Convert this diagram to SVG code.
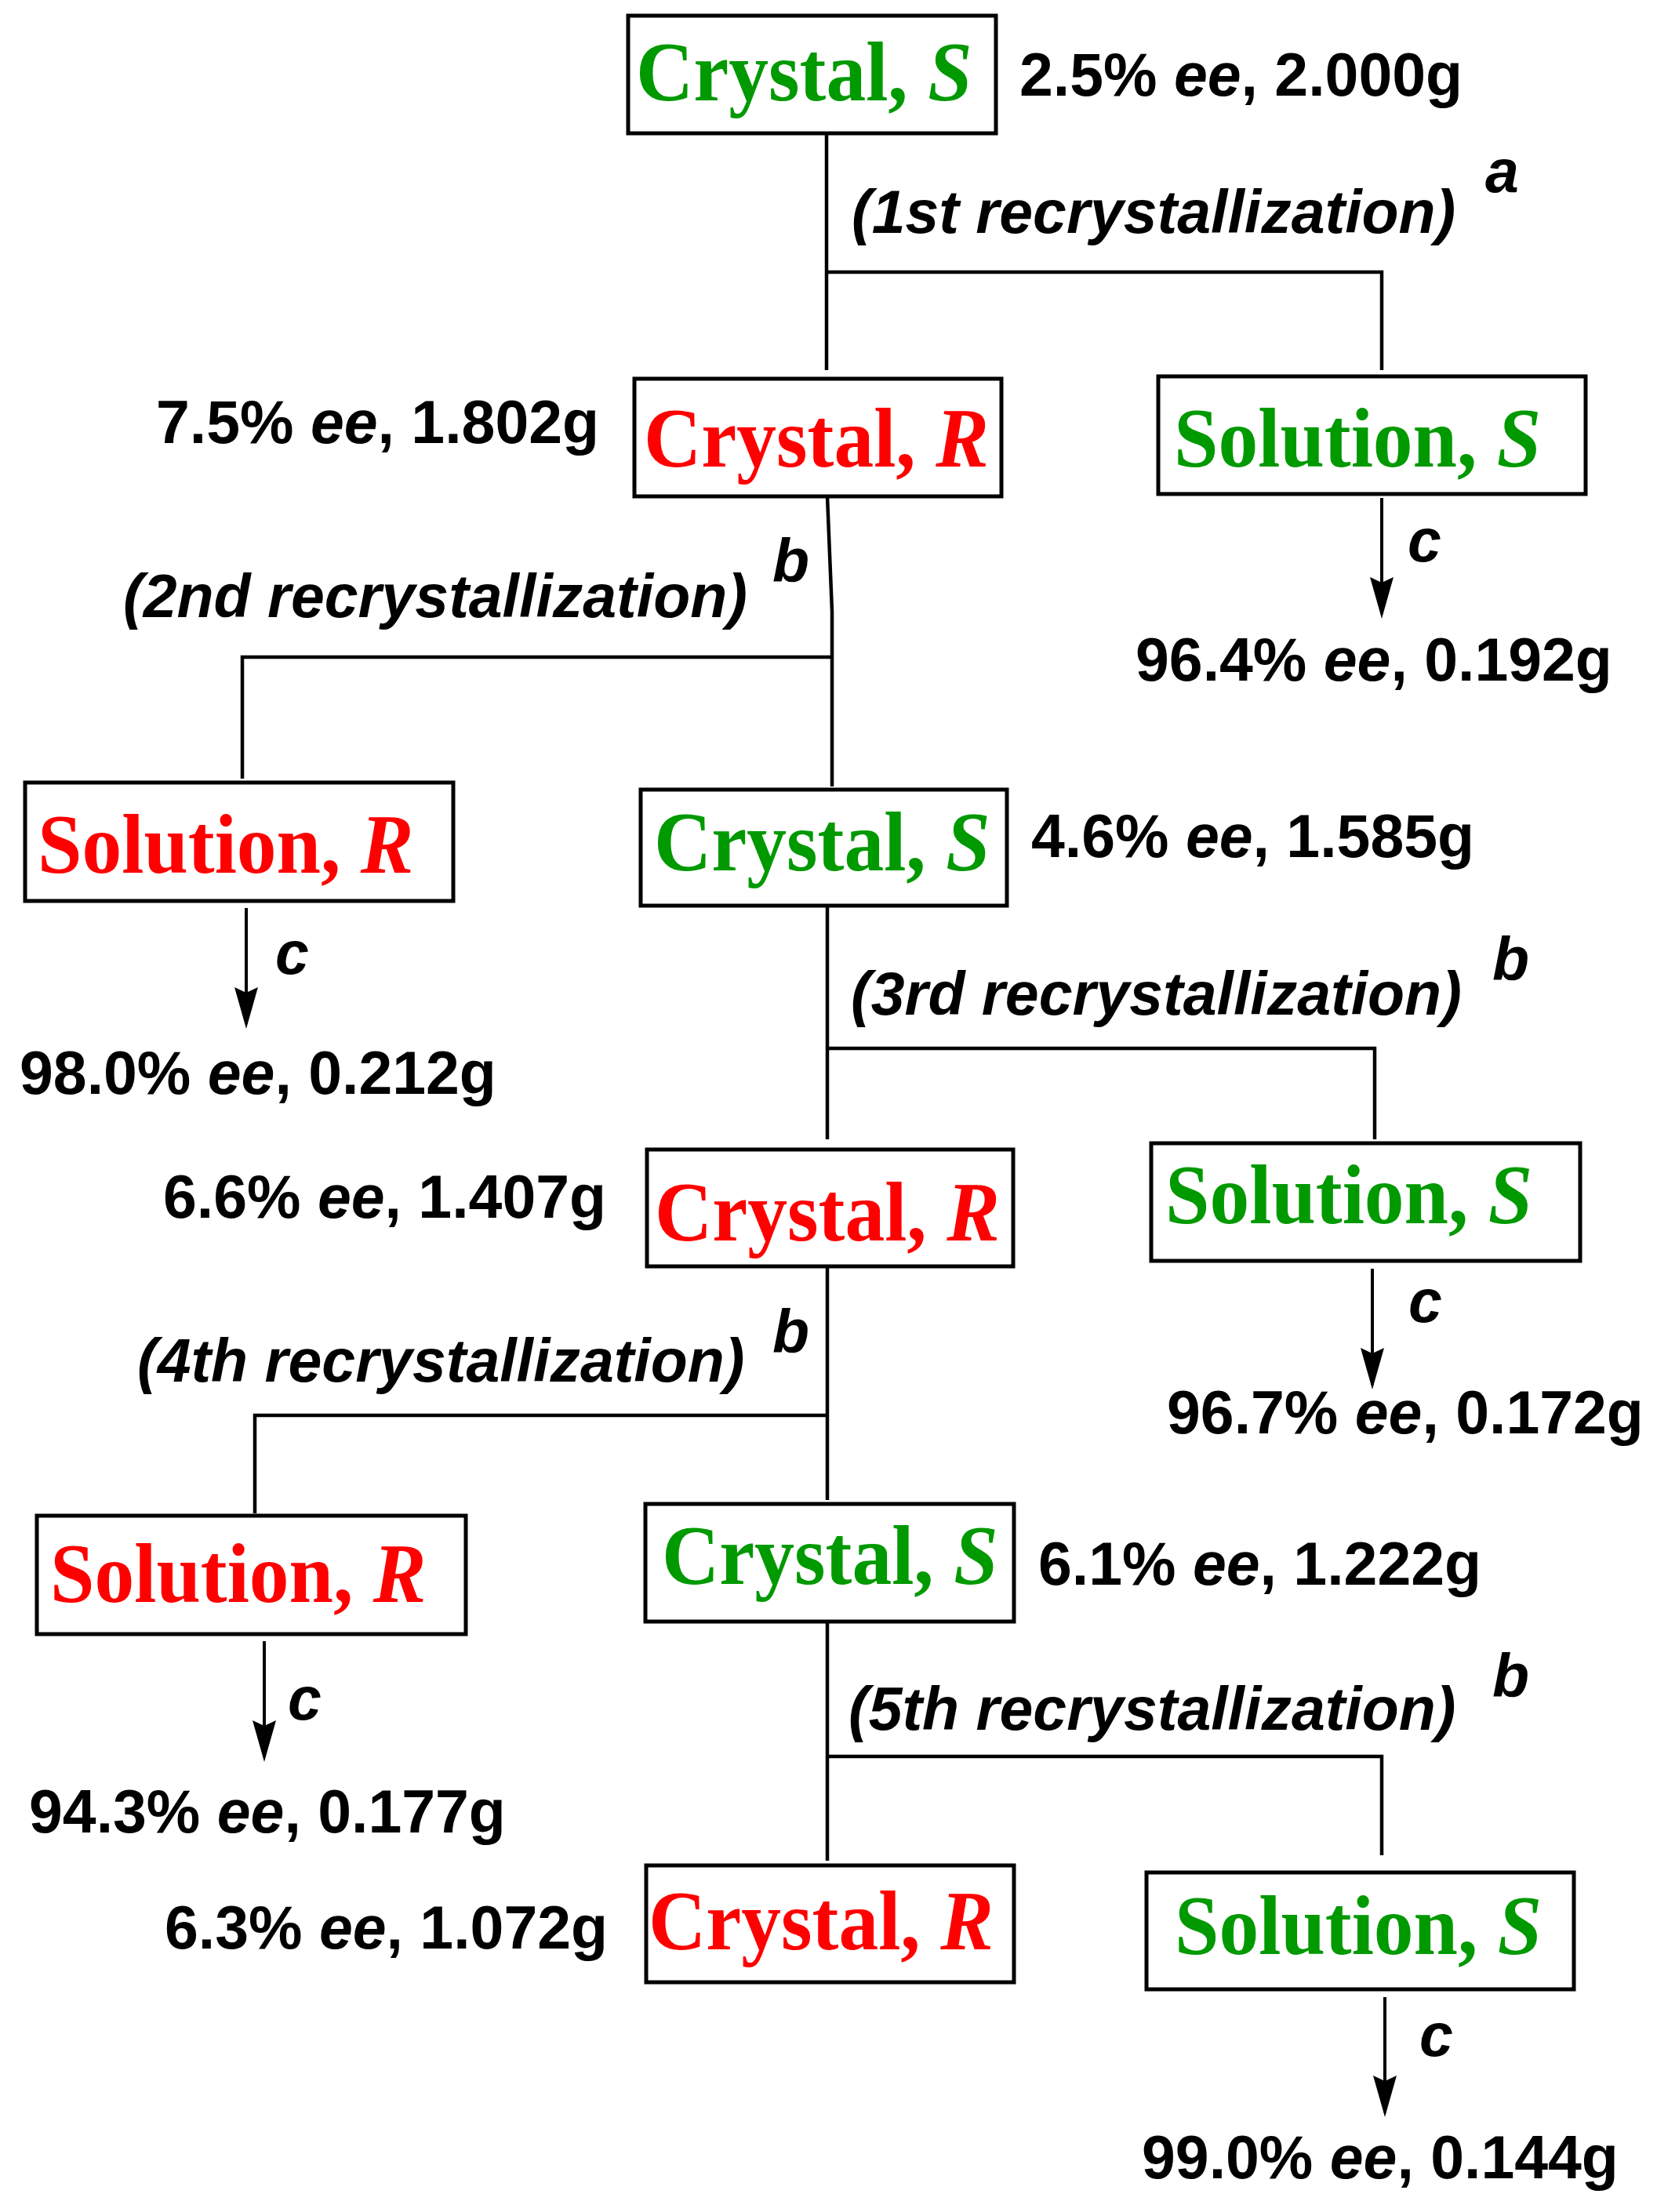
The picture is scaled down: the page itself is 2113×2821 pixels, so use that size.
<svg xmlns="http://www.w3.org/2000/svg" width="2113" height="2821" viewBox="0 0 2113 2821">
<style>
.box{fill:#ffffff;stroke:#000000;stroke-width:5}
.nt{font-family:"Liberation Serif","Times New Roman",serif;font-weight:bold;font-size:108px}
.g{fill:#009900}
.r{fill:#ff0000}
.it{font-style:italic}
.lb{font-family:"Liberation Sans",Arial,sans-serif;font-weight:bold;font-size:77px;fill:#000000}
.ln{fill:none;stroke:#000000;stroke-width:4.5}
.ar{fill:none;stroke:#000000;stroke-width:4;marker-end:url(#ah)}
</style>
<defs>
<marker id="ah" markerUnits="userSpaceOnUse" orient="auto" refX="0" refY="0" markerWidth="60" markerHeight="40" overflow="visible">
<path d="M6,0 L-47,-15 L-40,0 L-47,15 Z" fill="#000000"/>
</marker>
</defs>
<rect width="2113" height="2821" fill="#ffffff"/>

<g id="connectors">
<path class="ln" d="M1054,171 V472 M1054,347 H1762 V472"/>
<path class="ln" d="M1055,633 L1061,780 V1003 M1059,838 H309 V993"/>
<path class="ln" d="M1055,1155 V1453 M1055,1337 H1753 V1453"/>
<path class="ln" d="M1055,1615 V1913 M1055,1805 H325 V1930"/>
<path class="ln" d="M1055,2068 V2373 M1055,2240 H1762 V2366"/>
<line class="ar" x1="1762" y1="635" x2="1762" y2="783"/>
<line class="ar" x1="314" y1="1158" x2="314" y2="1306"/>
<line class="ar" x1="1750" y1="1618" x2="1750" y2="1766"/>
<line class="ar" x1="337" y1="2093" x2="337" y2="2241"/>
<line class="ar" x1="1766" y1="2547" x2="1766" y2="2694"/>
</g>

<g id="n1"><rect class="box" x="801" y="20" width="469" height="150"/><text class="nt g" transform="translate(811,128) scale(0.94,1)">Crystal, <tspan class="it">S</tspan></text></g>
<g id="n2"><rect class="box" x="809" y="483" width="468" height="150"/><text class="nt r" transform="translate(821,595) scale(0.94,1)">Crystal, <tspan class="it">R</tspan></text></g>
<g id="n3"><rect class="box" x="1477" y="480" width="545" height="150"/><text class="nt g" transform="translate(1497,595) scale(0.94,1)">Solution, <tspan class="it">S</tspan></text></g>
<g id="n4"><rect class="box" x="32" y="998" width="546" height="151"/><text class="nt r" transform="translate(48,1113) scale(0.94,1)">Solution, <tspan class="it">R</tspan></text></g>
<g id="n5"><rect class="box" x="817" y="1007" width="467" height="148"/><text class="nt g" transform="translate(834,1110) scale(0.94,1)">Crystal, <tspan class="it">S</tspan></text></g>
<g id="n6"><rect class="box" x="825" y="1466" width="467" height="149"/><text class="nt r" transform="translate(835,1582) scale(0.94,1)">Crystal, <tspan class="it">R</tspan></text></g>
<g id="n7"><rect class="box" x="1468" y="1458" width="547" height="150"/><text class="nt g" transform="translate(1486,1560) scale(0.94,1)">Solution, <tspan class="it">S</tspan></text></g>
<g id="n8"><rect class="box" x="47" y="1933" width="547" height="151"/><text class="nt r" transform="translate(64,2043) scale(0.94,1)">Solution, <tspan class="it">R</tspan></text></g>
<g id="n9"><rect class="box" x="823" y="1918" width="470" height="150"/><text class="nt g" transform="translate(844,2020) scale(0.94,1)">Crystal, <tspan class="it">S</tspan></text></g>
<g id="n10"><rect class="box" x="824" y="2379" width="469" height="149"/><text class="nt r" transform="translate(827,2486) scale(0.94,1)">Crystal, <tspan class="it">R</tspan></text></g>
<g id="n11"><rect class="box" x="1462" y="2388" width="545" height="149"/><text class="nt g" transform="translate(1498,2492) scale(0.94,1)">Solution, <tspan class="it">S</tspan></text></g>

<g id="labels">
<text class="lb" x="1300" y="122">2.5% <tspan class="it">ee</tspan>, 2.000g</text>
<text class="lb it" x="1086" y="297">(1st recrystallization)</text>
<text class="lb it" x="1894" y="245">a</text>
<text class="lb" x="199" y="565">7.5% <tspan class="it">ee</tspan>, 1.802g</text>
<text class="lb it" x="1795" y="716">c</text>
<text class="lb" x="1448" y="868">96.4% <tspan class="it">ee</tspan>, 0.192g</text>
<text class="lb it" x="157" y="787">(2nd recrystallization)</text>
<text class="lb it" x="985" y="742">b</text>
<text class="lb it" x="351" y="1242">c</text>
<text class="lb" x="25" y="1395">98.0% <tspan class="it">ee</tspan>, 0.212g</text>
<text class="lb" x="1315" y="1093">4.6% <tspan class="it">ee</tspan>, 1.585g</text>
<text class="lb it" x="1085" y="1294">(3rd recrystallization)</text>
<text class="lb it" x="1903" y="1250">b</text>
<text class="lb" x="208" y="1553">6.6% <tspan class="it">ee</tspan>, 1.407g</text>
<text class="lb it" x="1796" y="1686">c</text>
<text class="lb" x="1488" y="1828">96.7% <tspan class="it">ee</tspan>, 0.172g</text>
<text class="lb it" x="175" y="1762">(4th recrystallization)</text>
<text class="lb it" x="985" y="1725">b</text>
<text class="lb" x="1324" y="2021">6.1% <tspan class="it">ee</tspan>, 1.222g</text>
<text class="lb it" x="367" y="2193">c</text>
<text class="lb" x="37" y="2337">94.3% <tspan class="it">ee</tspan>, 0.177g</text>
<text class="lb it" x="1082" y="2206">(5th recrystallization)</text>
<text class="lb it" x="1903" y="2164">b</text>
<text class="lb" x="210" y="2485">6.3% <tspan class="it">ee</tspan>, 1.072g</text>
<text class="lb it" x="1810" y="2622">c</text>
<text class="lb" x="1456" y="2778">99.0% <tspan class="it">ee</tspan>, 0.144g</text>
</g>
</svg>
